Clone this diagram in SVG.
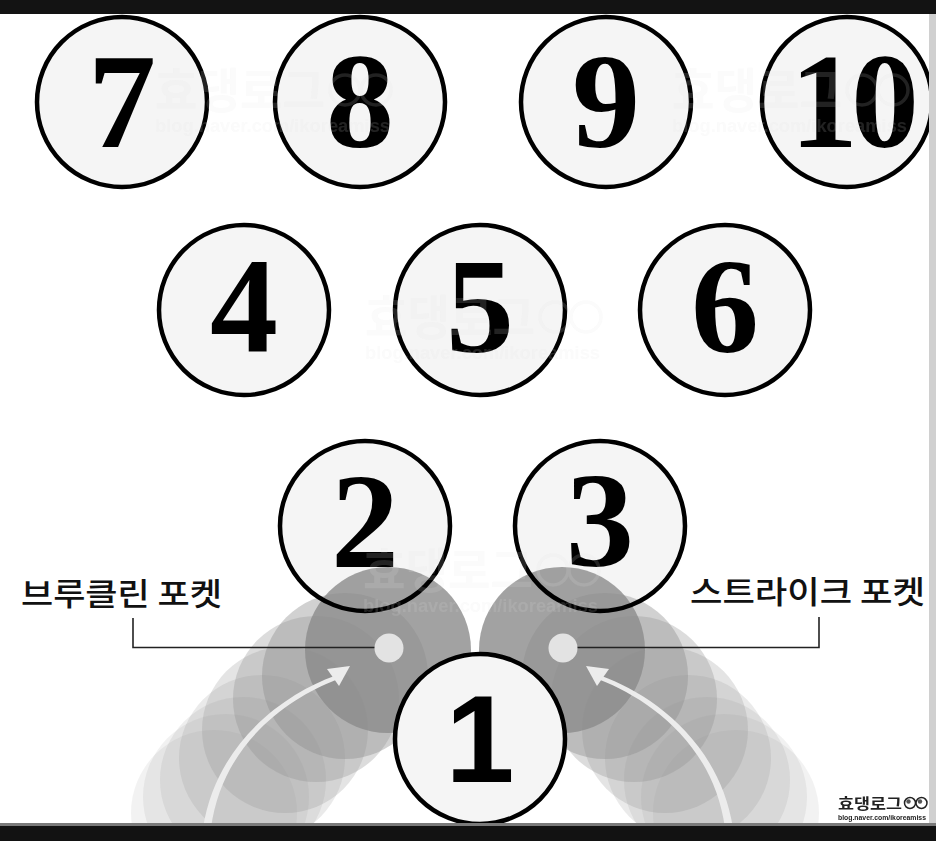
<svg xmlns="http://www.w3.org/2000/svg" xmlns:xlink="http://www.w3.org/1999/xlink" width="936" height="841" viewBox="0 0 936 841">
<style>
  .ball { fill:#f5f5f5; }
  .ring { fill:none; stroke:#000; stroke-width:4.5; }
  .num { font-family:"Liberation Serif","Times New Roman",serif; font-weight:bold; font-size:136px; text-anchor:middle; fill:#000; }
  .num1 { font-family:"Liberation Sans",Arial,sans-serif; font-weight:bold; font-size:124px; text-anchor:middle; fill:#000; }
  .label { font-family:"Noto Sans CJK KR","Noto Sans",sans-serif; font-weight:500; font-size:31px; fill:#111; }
  .trail { fill:#8b8b8b; }
  .arrow { fill:#ececec; }
  .pocket { fill:#e3e3e3; }
  .leader { fill:none; stroke:#222; stroke-width:1.6; }
  .wmk { font-family:"Noto Sans CJK KR","Noto Sans",sans-serif; font-weight:bold; }
  .wml { font-family:"Liberation Sans",Arial,sans-serif; font-weight:bold; }
  .wm { fill:#e0e0e0; opacity:0.15; }
</style>
<defs>
  <g id="trail-set">
    <circle class="trail" cx="214" cy="813" r="83" opacity="0.11"/>
    <circle class="trail" cx="226" cy="797" r="83" opacity="0.12"/>
    <circle class="trail" cx="243" cy="780" r="83" opacity="0.15"/>
    <circle class="trail" cx="262" cy="758" r="83" opacity="0.18"/>
    <circle class="trail" cx="285" cy="730" r="83" opacity="0.23"/>
    <circle class="trail" cx="316" cy="699" r="83" opacity="0.30"/>
    <circle class="trail" cx="345" cy="676" r="83" opacity="0.40"/>
    <circle class="trail" cx="388" cy="650" r="83" opacity="0.80"/>
  </g>
  <g id="arrow-shape">
    <path class="arrow" d="M203,828 C217,739 289,692.5 334.3,676.1 L335.7,679.9 C291,697.5 223,741 211,828 Z"/>
    <polygon class="arrow" points="350,666 327,669 339,686"/>
  </g>
  <g id="wm-big">
    <text class="wmk" x="0" y="40" font-size="48" textLength="170" lengthAdjust="spacingAndGlyphs">효댕로그</text>
    <circle cx="190" cy="22" r="15" fill="none" stroke="#e0e0e0" stroke-width="3.5"/>
    <circle cx="221" cy="22" r="15" fill="none" stroke="#e0e0e0" stroke-width="3.5"/>
    <text class="wml" x="0" y="64" font-size="18" textLength="235" lengthAdjust="spacingAndGlyphs">blog.naver.com/ikoreamiss</text>
  </g>
</defs>

<rect x="0" y="0" width="936" height="841" fill="#ffffff"/>

<g id="ball-7"><circle class="ball" cx="122" cy="102" r="85"/><circle class="ring" cx="122" cy="102" r="85"/><text class="num" x="122" y="147">7</text></g>
<g id="ball-8"><circle class="ball" cx="360" cy="102" r="85"/><circle class="ring" cx="360" cy="102" r="85"/><text class="num" x="360" y="147">8</text></g>
<g id="ball-9"><circle class="ball" cx="606" cy="102" r="85"/><circle class="ring" cx="606" cy="102" r="85"/><text class="num" x="606" y="147">9</text></g>
<g id="ball-10"><circle class="ball" cx="847" cy="102" r="85"/><circle class="ring" cx="847" cy="102" r="85"/><text class="num" x="851" y="147" letter-spacing="-7">10</text></g>

<g id="ball-4"><circle class="ball" cx="244" cy="310" r="85"/><circle class="ring" cx="244" cy="310" r="85"/><text class="num" x="244" y="352">4</text></g>
<g id="ball-5"><circle class="ball" cx="480" cy="310" r="85"/><circle class="ring" cx="480" cy="310" r="85"/><text class="num" x="480" y="352">5</text></g>
<g id="ball-6"><circle class="ball" cx="725" cy="310" r="85"/><circle class="ring" cx="725" cy="310" r="85"/><text class="num" x="725" y="352">6</text></g>

<g id="ball-2"><circle class="ball" cx="365" cy="526" r="85"/><text class="num" x="365" y="567">2</text></g>
<g id="ball-3"><circle class="ball" cx="600" cy="526" r="85"/><text class="num" x="600" y="566">3</text></g>

<g id="cue-trails">
  <use xlink:href="#trail-set" href="#trail-set"/>
  <use xlink:href="#trail-set" href="#trail-set" transform="translate(950,0) scale(-1,1)"/>
</g>

<g id="ball-rings-2-3">
  <circle class="ring" cx="365" cy="526" r="85"/>
  <circle class="ring" cx="600" cy="526" r="85"/>
</g>

<g id="ball-1"><circle class="ball" cx="480" cy="739" r="85"/><circle class="ring" cx="480" cy="739" r="85"/><text class="num1" x="480" y="782">1</text></g>

<g id="connectors">
  <path class="leader" d="M133,618 V647.5 H376"/>
  <path class="leader" d="M819,617 V647.5 H576"/>
  <use xlink:href="#arrow-shape" href="#arrow-shape"/>
  <use xlink:href="#arrow-shape" href="#arrow-shape" transform="translate(936,0) scale(-1,1)"/>
</g>

<g id="pocket-brooklyn"><circle class="pocket" cx="389" cy="648" r="14.5"/></g>
<g id="pocket-strike"><circle class="pocket" cx="563" cy="648" r="14.5"/></g>

<g id="label-brooklyn"><text class="label" x="21" y="605" textLength="201" lengthAdjust="spacingAndGlyphs">브루클린 포켓</text></g>
<g id="label-strike"><text class="label" x="690" y="603" textLength="235" lengthAdjust="spacingAndGlyphs">스트라이크 포켓</text></g>

<g id="watermarks" class="wm">
  <use xlink:href="#wm-big" href="#wm-big" transform="translate(155,68)"/>
  <use xlink:href="#wm-big" href="#wm-big" transform="translate(672,68)"/>
  <use xlink:href="#wm-big" href="#wm-big" transform="translate(365,295)"/>
  <use xlink:href="#wm-big" href="#wm-big" transform="translate(363,548)"/>
</g>

<g id="frame">
  <rect x="0" y="0" width="936" height="14" fill="#131313"/>
  <rect x="929" y="14" width="7" height="809" fill="#d0d0d0"/>
  <rect x="0" y="823" width="936" height="3" fill="#7a7a7a"/>
  <rect x="0" y="826" width="936" height="15" fill="#121212"/>
</g>

<g id="watermark-corner">
  <text class="wmk" x="838" y="809" font-size="15" fill="#222" textLength="64" lengthAdjust="spacingAndGlyphs">효댕로그</text>
  <circle cx="910" cy="803" r="5.5" fill="#fff" stroke="#222" stroke-width="1.5"/>
  <circle cx="921.5" cy="803" r="5.5" fill="#fff" stroke="#222" stroke-width="1.5"/>
  <circle cx="908.5" cy="801.5" r="2.2" fill="#555"/>
  <circle cx="920" cy="801.5" r="2.2" fill="#555"/>
  <text class="wml" x="838" y="820" font-size="7" fill="#222" textLength="88" lengthAdjust="spacingAndGlyphs">blog.naver.com/ikoreamiss</text>
</g>
</svg>
